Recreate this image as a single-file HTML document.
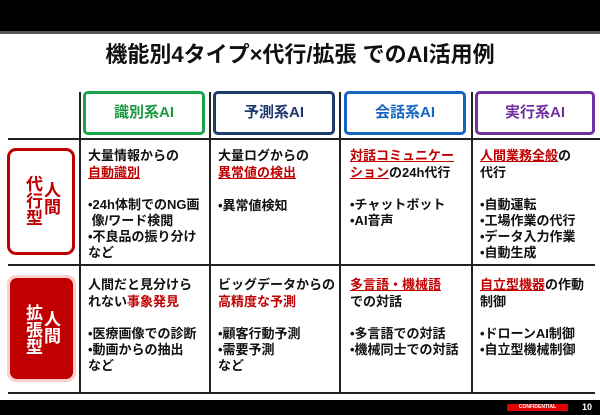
<!DOCTYPE html>
<html><head><meta charset="utf-8"><style>
body{margin:0;width:600px;height:415px;background:#fff;position:relative;overflow:hidden;font-family:"Liberation Sans","Noto Sans CJK JP",sans-serif;font-weight:bold}
.a{position:absolute}
.hb{position:absolute;top:91px;height:38px;width:116px;border:3px solid;border-radius:5px;font-size:15px;text-align:center;line-height:38px;font-weight:bold}
.c{position:absolute;font-size:13px;line-height:17px;color:#111}
.r{color:#c00000}.u{text-decoration:underline}
.vt{writing-mode:vertical-rl;font-size:17px;line-height:18px}
</style></head><body>
<div class="a" style="left:0;top:0;width:600px;height:31px;background:#000"></div>
<div class="a" style="left:0;top:31px;width:600px;height:3px;background:#555"></div>
<div class="a" style="left:0;top:40px;width:600px;text-align:center;font-size:22px;line-height:30px;color:#111">機能別4タイプ×代行/拡張 でのAI活用例</div>

<div class="a" style="left:79px;top:92px;width:2px;height:301px;background:#222"></div>
<div class="a" style="left:209px;top:92px;width:2px;height:301px;background:#222"></div>
<div class="a" style="left:339px;top:92px;width:2px;height:301px;background:#222"></div>
<div class="a" style="left:471px;top:92px;width:2px;height:301px;background:#222"></div>
<div class="a" style="left:8px;top:138px;width:592px;height:2px;background:#222"></div>
<div class="a" style="left:8px;top:264px;width:587px;height:2px;background:#222"></div>
<div class="a" style="left:8px;top:392px;width:587px;height:2px;background:#222"></div>

<div class="hb" style="left:83px;border-color:#1aa34a;color:#1a9a40">識別系AI</div>
<div class="hb" style="left:213px;border-color:#1f3a6e;color:#1f3a6e">予測系AI</div>
<div class="hb" style="left:344px;border-color:#1565c0;color:#1565c0">会話系AI</div>
<div class="hb" style="left:475px;border-color:#7030a0;color:#7030a0;width:114px">実行系AI</div>

<div class="a" style="left:7px;top:148px;width:62px;height:101px;border:3px solid #c00000;border-radius:9px"></div>
<div class="a vt" style="left:23px;top:175px;color:#c00000"><span style="display:inline-block;padding-top:6px">人間</span><br>代行型</div>
<div class="a" style="left:7px;top:275px;width:69px;height:107px;background:#fcd0d0;border-radius:9px"></div>
<div class="a" style="left:10px;top:278px;width:63px;height:101px;background:#c00000;border-radius:7px"></div>
<div class="a vt" style="left:23px;top:304px;color:#fff"><span style="display:inline-block;padding-top:6px">人間</span><br>拡張型</div>

<div class="c" style="left:88px;top:147px">大量情報からの<br><span class="r u">自動識別</span></div>
<div class="c" style="left:88px;top:197px;line-height:16px">•24h体制でのNG画<br>&nbsp;像/ワード検閲<br>•不良品の振り分け<br>など</div>
<div class="c" style="left:218px;top:147px">大量ログからの<br><span class="r u">異常値の検出</span></div>
<div class="c" style="left:218px;top:197px">•異常値検知</div>
<div class="c" style="left:350px;top:147px"><span class="r u">対話コミュニケー<br>ション</span>の24h代行</div>
<div class="c" style="left:350px;top:197px;line-height:16px">•チャットボット<br>•AI音声</div>
<div class="c" style="left:480px;top:147px"><span class="r u">人間業務全般</span>の<br>代行</div>
<div class="c" style="left:480px;top:197px;line-height:16px">•自動運転<br>•工場作業の代行<br>•データ入力作業<br>•自動生成</div>

<div class="c" style="left:88px;top:276px">人間だと見分けら<br>れない<span class="r">事象発見</span></div>
<div class="c" style="left:88px;top:326px;line-height:16px">•医療画像での診断<br>•動画からの抽出<br>など</div>
<div class="c" style="left:218px;top:276px">ビッグデータからの<br><span class="r">高精度な予測</span></div>
<div class="c" style="left:218px;top:326px;line-height:16px">•顧客行動予測<br>•需要予測<br>など</div>
<div class="c" style="left:350px;top:276px"><span class="r u">多言語・機械語</span><br>での対話</div>
<div class="c" style="left:350px;top:326px;line-height:16px">•多言語での対話<br>•機械同士での対話</div>
<div class="c" style="left:480px;top:276px"><span class="r u">自立型機器</span>の作動<br>制御</div>
<div class="c" style="left:480px;top:326px;line-height:16px">•ドローンAI制御<br>•自立型機械制御</div>

<div class="a" style="left:0;top:400px;width:600px;height:15px;background:#000"></div>
<div class="a" style="left:507px;top:404px;width:61px;height:7px;background:#e00000;color:#fff;font-size:5px;line-height:7px;text-align:center">CONFIDENTIAL</div>
<div class="a" style="left:582px;top:402px;color:#fff;font-size:9px;line-height:11px">10</div>
</body></html>
